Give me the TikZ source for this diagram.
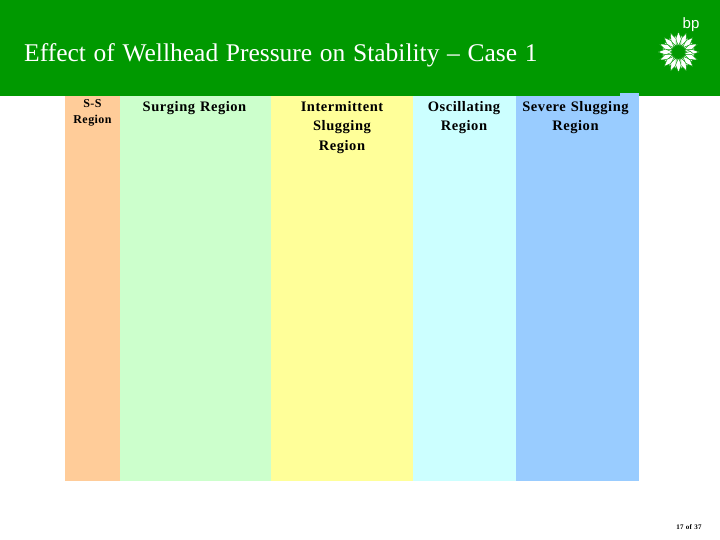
\documentclass[tikz,border=0pt]{standalone}
\usepackage{fontspec}
\setmainfont{Liberation Serif}
\newfontfamily\bpfont{Liberation Sans}
\newfontfamily\labfont[LetterSpace=3.7,WordSpace=1.2,BoldFont={Liberation Serif Bold}]{Liberation Serif}
\newfontfamily\titlefont[WordSpace=1.2]{Liberation Serif}
\definecolor{bpgreen}{HTML}{009900}
\definecolor{regA}{HTML}{FFCC99}
\definecolor{regB}{HTML}{CCFFCC}
\definecolor{regC}{HTML}{FFFF99}
\definecolor{regD}{HTML}{CCFFFF}
\definecolor{regE}{HTML}{99CCFF}
\begin{document}
\begin{tikzpicture}[x=1pt,y=-1pt,
  band/.style={draw=none},
  lab/.style={font=\labfont\fontsize{14.5}{19.5}\selectfont\bfseries,align=center,text=black,inner sep=0pt,anchor=north},
  petal/.style={fill=white,draw=bpgreen,line width=0.45pt,line join=miter}]
\useasboundingbox (0,0) rectangle (720,540);
\fill[white] (0,0) rectangle (720,540);
\fill[band,regA] (65,93) rectangle (120,481);
\fill[band,regB] (120,93) rectangle (271,481);
\fill[band,regC] (271,93) rectangle (413,481);
\fill[band,regD] (413,93) rectangle (516,481);
\fill[band,regE] (516,93) rectangle (639,481);
\fill[bpgreen] (0,0) rectangle (720,96);
\fill[regE] (620,93) rectangle (639,96);
\node[anchor=west,text=white,inner sep=0pt,font=\titlefont\fontsize{25.5}{28}\selectfont] (title) at (24,55.5) {Effect of Wellhead Pressure on Stability – Case 1};
\node[lab,font=\labfont\fontsize{12}{15.5}\selectfont\bfseries] (ss) at (92.5,99.5) {S-S\\Region};
\node[lab] (surge) at (194.5,101) {Surging Region};
\node[lab] (inter) at (342,101) {Intermittent\\Slugging\\Region};
\node[lab] (osc) at (464,101) {Oscillating\\Region};
\node[lab] (sev) at (575.5,101) {Severe Slugging\\Region};
\node[anchor=center,text=white,inner sep=0pt,font=\bpfont\fontsize{15}{15}\selectfont] (bp) at (691,25) {bp};
\begin{scope}[shift={(678.5,52)}]
  \foreach \a in {0,22.5,...,337.5}{
    \filldraw[petal,rotate=\a+11.25] (6,0) -- (11.5,-2.9) -- (17,0) -- (11.5,2.9) -- cycle;
    \filldraw[petal,rotate=\a] (6,0) -- (13,-2.9) -- (20.5,0) -- (13,2.9) -- cycle;
  }
  \fill[bpgreen] (0,0) circle (6);
\end{scope}
\node[anchor=center,text=black,inner sep=0pt,font=\labfont\fontsize{7}{7}\selectfont\bfseries] (pg) at (689,527) {17 of 37};
\end{tikzpicture}
\end{document}
